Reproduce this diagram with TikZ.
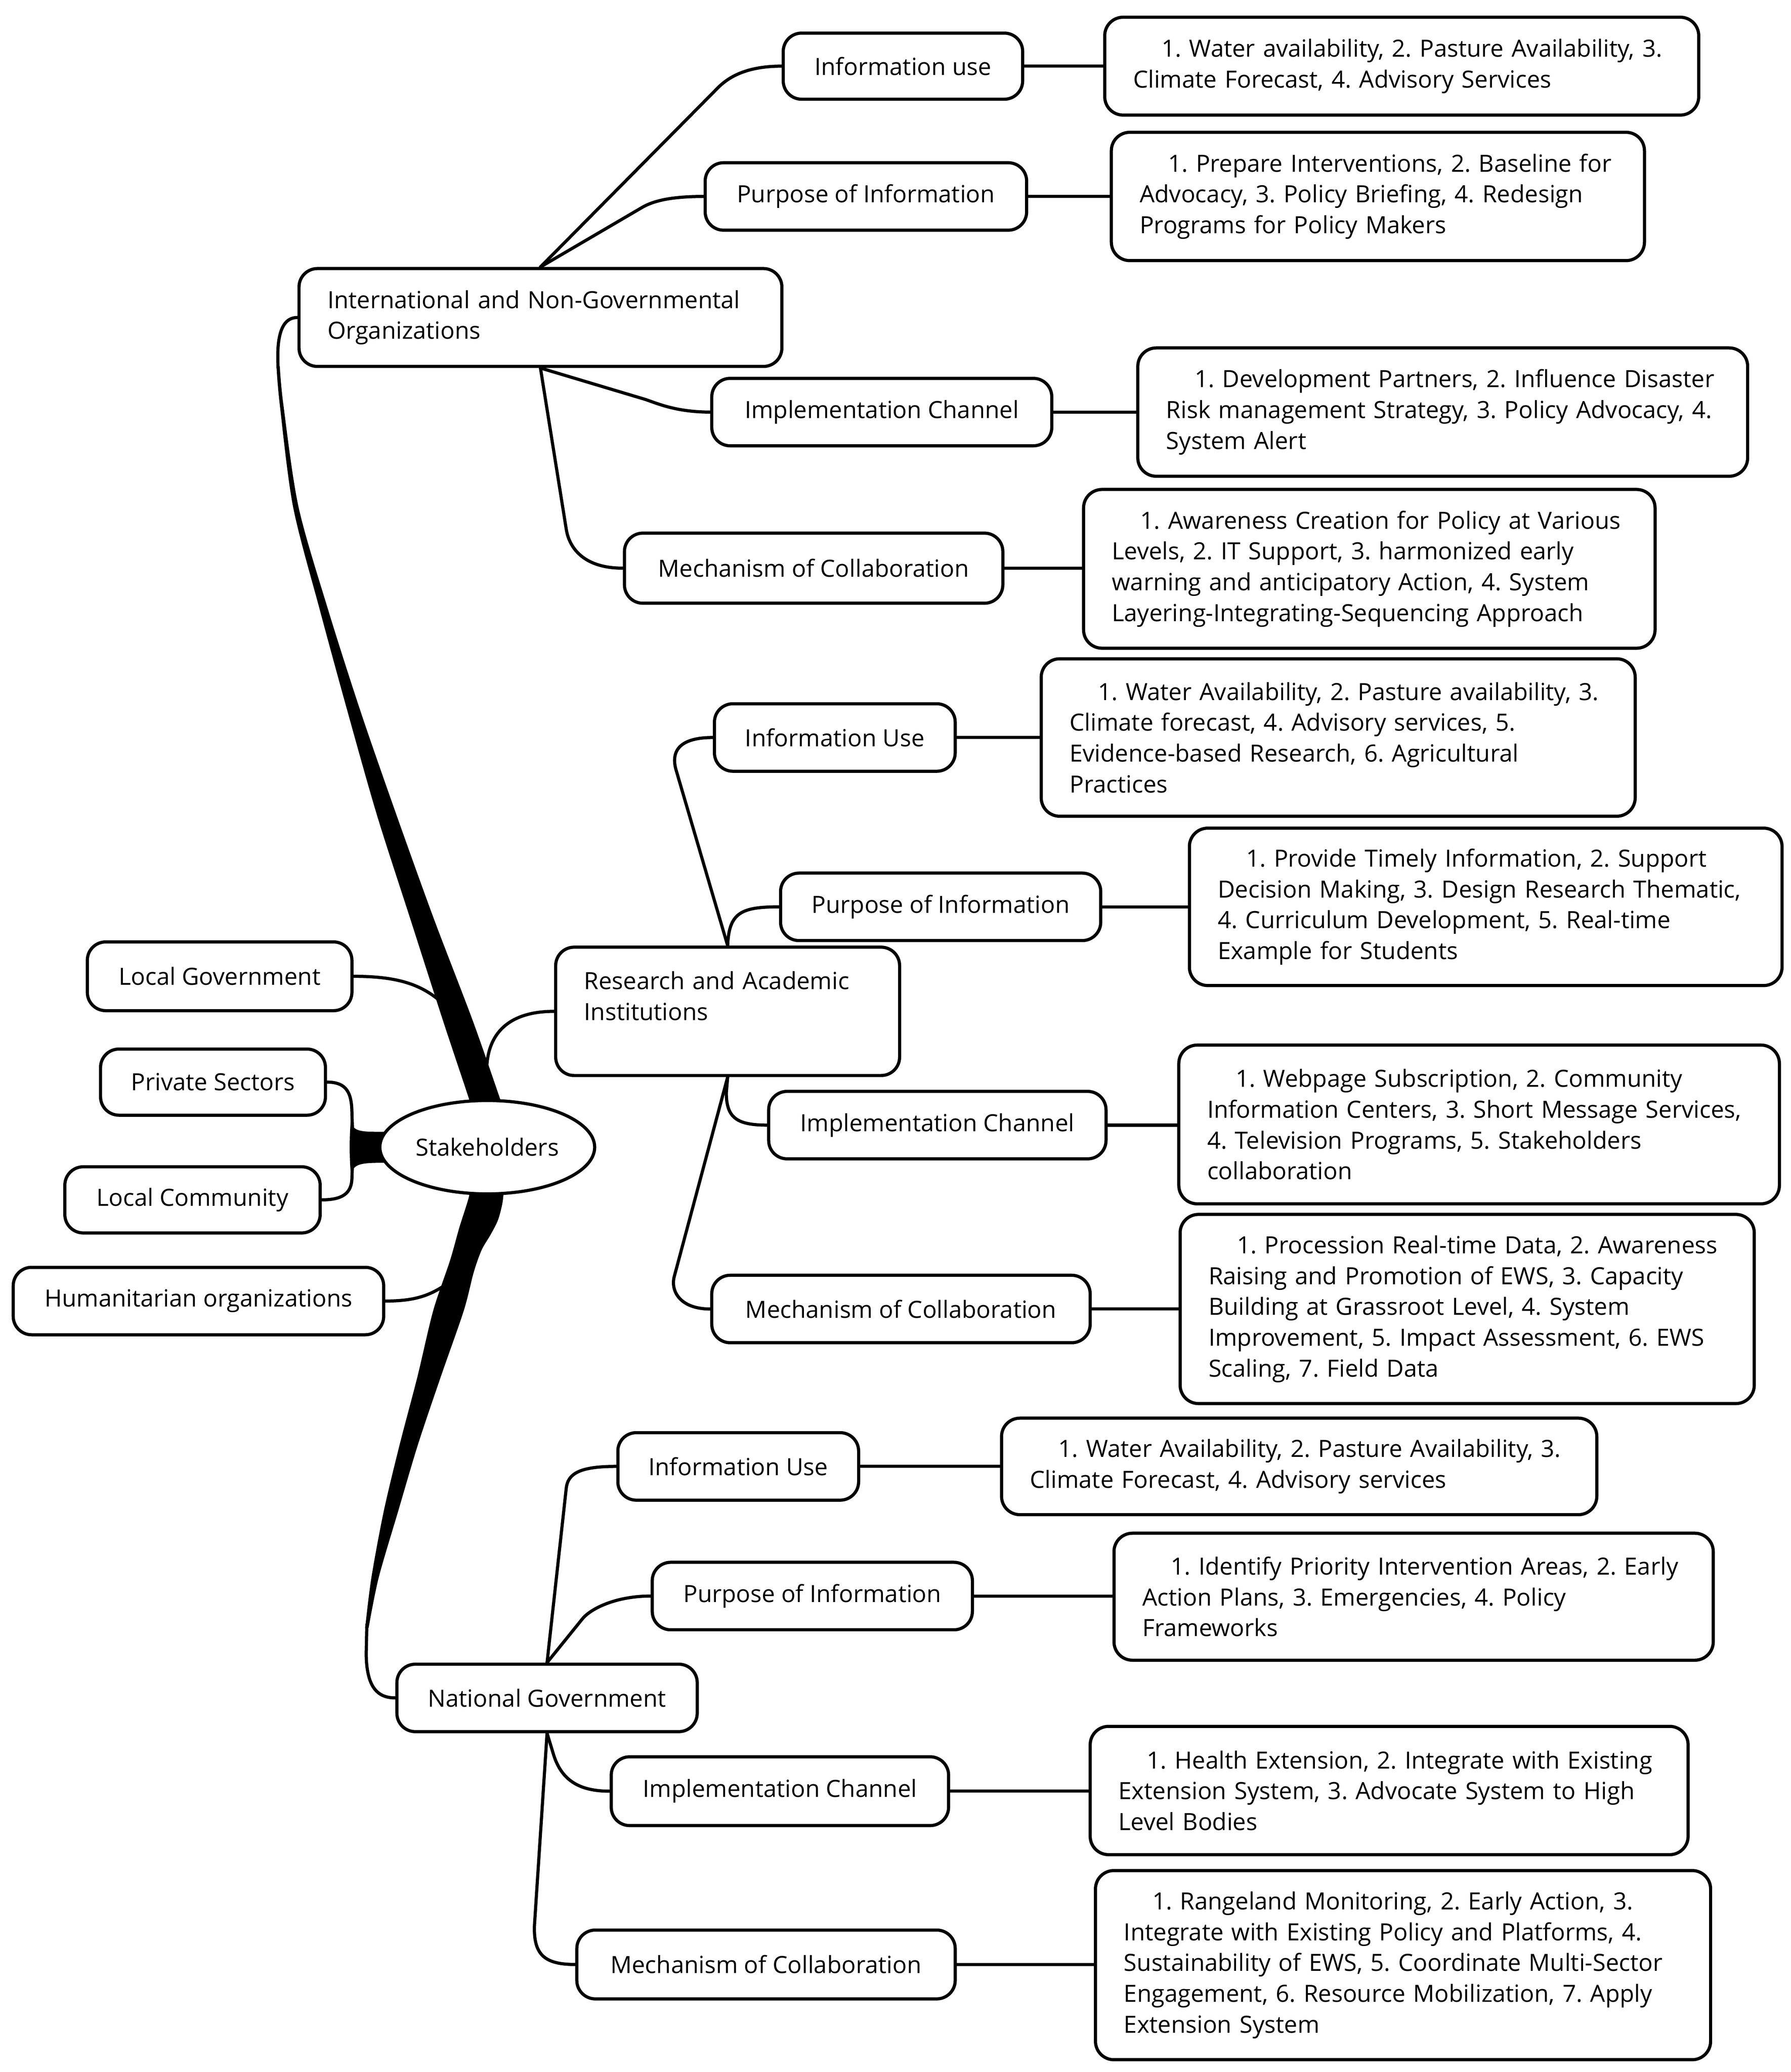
\documentclass[tikz,border=0pt]{standalone}
\usepackage{fontspec}
\setmainfont{Open Sans}
\usetikzlibrary{shapes.geometric,backgrounds}
\newcommand\cbx[6]{%
  \pgfmathsetmacro\bxw{(#4-#2)*0.5028}\pgfmathsetmacro\bxh{(#5-#3)*0.5028}%
  \node[box,align=center,inner xsep=0pt,minimum width=\bxw pt,minimum height=\bxh pt] (#1) at ({(#2+#4)/2},{(#3+#5)/2}) {#6};}
\newcommand\lbx[6]{%
  \pgfmathsetmacro\bxw{(#4-#2-43)*0.5028}\pgfmathsetmacro\bxh{(#5-#3)*0.5028}%
  \node[box,align=left,text width=\bxw pt,minimum height=\bxh pt] (#1) at ({(#2+#4)/2},{(#3+#5)/2}) {#6};}
\newcommand\ind{\hspace*{10.8pt}}
\begin{document}
\frenchspacing
\begin{tikzpicture}[x=0.5028pt,y=-0.5028pt,
  box/.style={draw,line width=1.2pt,rounded corners=7pt,fill=white,inner xsep=10.8pt,inner ysep=0pt,font=\fontsize{9}{11.7}\selectfont\frenchspacing},
  conn/.style={draw,line width=1.2pt,line cap=round},
  stakeell/.style={draw,ellipse,line width=1.2pt,fill=white,inner sep=0pt,minimum width=81.65pt,minimum height=35.5pt,font=\fontsize{9}{11.7}\selectfont},
  stem/.style={fill=black}]
\useasboundingbox (0,0) rectangle (1353.5,1566.3);

% ---------- nodes ----------
\node[stakeell] (stk) at (368.3,867.2) {Stakeholders};

\lbx{ingo}{226}{203}{591}{277}{\mbox{International and Non-Governmental}\\\mbox{Organizations}}
\cbx{iu1}{592}{25}{773}{75}{Information use}
\lbx{d1}{835}{13}{1284}{87}{\mbox{\ind 1. Water availability, 2. Pasture Availability, 3.}\\\mbox{Climate Forecast, 4. Advisory Services}}
\cbx{pu1}{533}{123}{776}{174}{Purpose of Information}
\lbx{d2}{840}{100}{1243}{197}{\mbox{\ind 1. Prepare Interventions, 2. Baseline for}\\\mbox{Advocacy, 3. Policy Briefing, 4. Redesign}\\\mbox{Programs for Policy Makers}}
\cbx{ic1}{538}{286}{795}{337}{Implementation Channel}
\lbx{d3}{860}{263}{1321}{360}{\mbox{\ind 1. Development Partners, 2. Influence Disaster}\\\mbox{Risk management Strategy, 3. Policy Advocacy, 4.}\\\mbox{System Alert}}
\cbx{mc1}{472}{403}{758}{456}{Mechanism of Collaboration}
\lbx{d4}{819}{370}{1251}{490}{\mbox{\ind 1. Awareness Creation for Policy at Various}\\\mbox{Levels, 2. IT Support, 3. harmonized early}\\\mbox{warning and anticipatory Action, 4. System}\\\mbox{Layering-Integrating-Sequencing Approach}}

\lbx{rai}{420}{716}{680}{813}{\mbox{Research and Academic}\\\mbox{Institutions}\\\mbox{}}
\cbx{iu2}{540}{532}{722}{583}{Information Use}
\lbx{d5}{787}{498}{1236}{617}{\mbox{\ind 1. Water Availability, 2. Pasture availability, 3.}\\\mbox{Climate forecast, 4. Advisory services, 5.}\\\mbox{Evidence-based Research, 6. Agricultural}\\\mbox{Practices}}
\cbx{pu2}{590}{660}{832}{711}{Purpose of Information}
\lbx{d6}{899}{626}{1347}{745}{\mbox{\ind 1. Provide Timely Information, 2. Support}\\\mbox{Decision Making, 3. Design Research Thematic,}\\\mbox{4. Curriculum Development, 5. Real-time}\\\mbox{Example for Students}}
\cbx{ic2}{581}{825}{836}{876}{Implementation Channel}
\lbx{d7}{891}{790}{1345}{910}{\mbox{\ind 1. Webpage Subscription, 2. Community}\\\mbox{Information Centers, 3. Short Message Services,}\\\mbox{4. Television Programs, 5. Stakeholders}\\\mbox{collaboration}}
\cbx{mc2}{538}{964}{824}{1015}{Mechanism of Collaboration}
\lbx{d8}{892}{918}{1326}{1061}{\mbox{\ind 1. Procession Real-time Data, 2. Awareness}\\\mbox{Raising and Promotion of EWS, 3. Capacity}\\\mbox{Building at Grassroot Level, 4. System}\\\mbox{Improvement, 5. Impact Assessment, 6. EWS}\\\mbox{Scaling, 7. Field Data}}

\cbx{ng}{300}{1258}{527}{1309}{National Government}
\cbx{iu3}{467}{1083}{649}{1134}{Information Use}
\lbx{d9}{757}{1072}{1207}{1145}{\mbox{\ind 1. Water Availability, 2. Pasture Availability, 3.}\\\mbox{Climate Forecast, 4. Advisory services}}
\cbx{pu3}{493}{1181}{735}{1232}{Purpose of Information}
\lbx{d10}{842}{1159}{1295}{1255}{\mbox{\ind 1. Identify Priority Intervention Areas, 2. Early}\\\mbox{Action Plans, 3. Emergencies, 4. Policy}\\\mbox{Frameworks}}
\cbx{ic3}{462}{1328}{717}{1380}{Implementation Channel}
\lbx{d11}{824}{1305}{1276}{1402}{\mbox{\ind 1. Health Extension, 2. Integrate with Existing}\\\mbox{Extension System, 3. Advocate System to High}\\\mbox{Level Bodies}}
\cbx{mc3}{436}{1459}{722}{1511}{Mechanism of Collaboration}
\lbx{d12}{828}{1414}{1293}{1557}{\mbox{\ind 1. Rangeland Monitoring, 2. Early Action, 3.}\\\mbox{Integrate with Existing Policy and Platforms, 4.}\\\mbox{Sustainability of EWS, 5. Coordinate Multi-Sector}\\\mbox{Engagement, 6. Resource Mobilization, 7. Apply}\\\mbox{Extension System}}

\cbx{lg}{66}{712}{266}{764}{Local Government}
\cbx{ps}{76}{793}{246}{843}{Private Sectors}
\cbx{lc}{49}{882}{242}{932}{Local Community}
\cbx{ho}{10}{958}{290}{1009}{Humanitarian organizations}

% ---------- connectors ----------
\begin{scope}[on background layer]
\fill[white] (0,0) rectangle (1353.5,1566.3);
% main stem, upper part
\draw[conn] (ingo.west) .. controls (212,240) and (209,256) .. (210.2,278);
\fill[stem] plot[smooth] coordinates {(209,277) (211.4,305.2) (221.5,383) (241.7,460.9) (262.9,538.6) (285,616.4) (310,694.2) (335,772) (355.6,834.1) (359,848)}
  -- plot[smooth] coordinates {(384,848) (379.2,834.1) (357.5,772) (327.8,694.2) (299.8,616.4) (272.8,538.6) (248,460.9) (225.6,383) (214.1,305.2) (211.5,277)} -- cycle;
% main stem, lower part
\fill[stem] plot[smooth] coordinates {(354,890) (354.9,902.6) (347.2,927.9) (340.1,953) (327.4,990.9) (315.4,1041.2) (302.1,1092) (290.1,1142.2) (280.7,1192.7) (276,1230.6)}
  -- plot[smooth] coordinates {(278.6,1230.6) (286.2,1192.7) (301,1142.2) (315.9,1092) (333,1041.2) (350.5,990.9) (358,962) (364,945) (371,933) (376.5,922) (380,908) (381.5,890)} -- cycle;
\draw[conn] (277.3,1228) -- (276.8,1250) .. controls (277,1275) and (285,1283.5) .. (ng.west);
% side branches
\draw[conn] (lg.east) .. controls (300,738) and (318,744) .. (333,757);
\draw[conn] (ho.east) .. controls (312,983.5) and (324,980) .. (337,971);
\draw[conn] (rai.west) .. controls (388,764.5) and (370,778) .. (368,805) -- (369,825);
\draw[conn] (ps.east) .. controls (262,818) and (266,826) .. (266,842) -- (266.5,856);
\draw[conn] (lc.east) .. controls (259,907) and (266,902) .. (266,890) -- (266.5,878);
\fill[stem] (265.2,846) .. controls (266,857) and (274,855.5) .. (300,855.5) -- (300,879)
  .. controls (274,879) and (266,878) .. (265.4,890) .. controls (264,876) and (264,860) .. (265.2,846) -- cycle;
% INGO branches
\draw[conn] (ingo.north) -- (542,67) .. controls (552.5,56) and (568,50) .. (iu1.west);
\draw[conn] (ingo.north) -- (485,157) .. controls (495,151) and (510,148.5) .. (pu1.west);
\draw[conn] (ingo.south) -- (488,302) .. controls (498,305.5) and (512,311.5) .. (ic1.west);
\draw[conn] (ingo.south) -- (428,400) .. controls (430,413) and (440,429.5) .. (mc1.west);
% RAI branches
\draw[conn] (rai.north) -- (511,582) .. controls (507.3,569) and (512,557.5) .. (iu2.west);
\draw[conn] (rai.north) .. controls (551,690) and (560,685.5) .. (pu2.west);
\draw[conn] (rai.south) -- (549,826) .. controls (549,845) and (557,850.5) .. (ic2.west);
\draw[conn] (rai.south) -- (509.5,965.5) .. controls (507,976) and (514,989.5) .. (mc2.west);
% NG branches
\draw[conn] (ng.north) -- (428,1125) .. controls (429.3,1113) and (440,1108.5) .. (iu3.west);
\draw[conn] (ng.north) -- (440,1224) .. controls (446,1216.3) and (465,1206.5) .. (pu3.west);
\draw[conn] (ng.south) -- (418,1325) .. controls (424,1346) and (438,1354) .. (ic3.west);
\draw[conn] (ng.south) -- (404,1455) .. controls (403,1478) and (412,1485) .. (mc3.west);
% detail links
\foreach \s/\d in {iu1/d1,pu1/d2,ic1/d3,mc1/d4,iu2/d5,pu2/d6,ic2/d7,mc2/d8,iu3/d9,pu3/d10,ic3/d11,mc3/d12}
  \draw[conn] (\s.east) -- (\s.east -| \d.west);
\end{scope}
\end{tikzpicture}
\end{document}
